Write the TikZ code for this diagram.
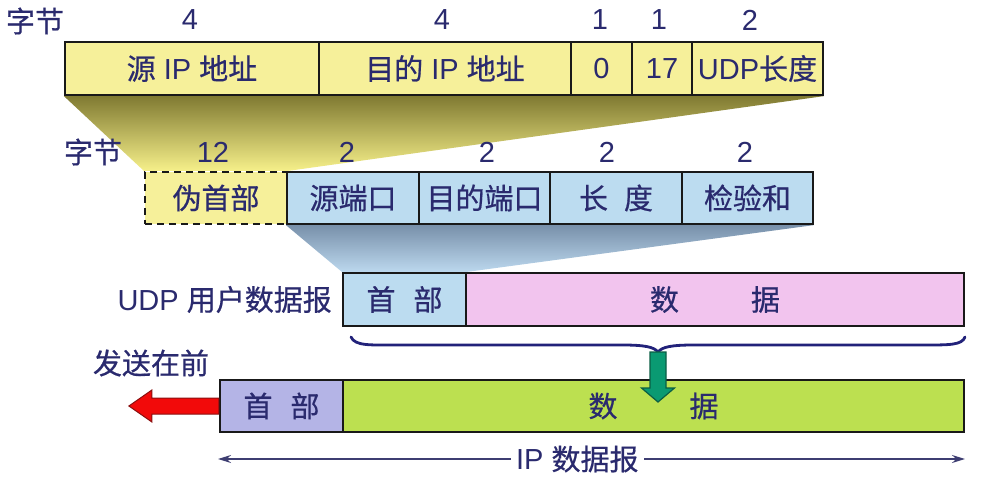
\documentclass[tikz,border=0pt]{standalone}
\usepackage{fontspec}
\setmainfont{Liberation Sans}
\newfontfamily\cjk[FakeBold=0.6]{Noto Sans CJK SC}
\usetikzlibrary{arrows.meta,backgrounds,calc}
\newcommand{\zh}[1]{{\cjk #1}}
\definecolor{txt}{HTML}{2A2A6E}
\definecolor{ylw}{HTML}{F6F09A}
\definecolor{blu}{HTML}{BCDCF0}
\definecolor{pnk}{HTML}{F2C4EE}
\definecolor{lim}{HTML}{BCE050}
\definecolor{lav}{HTML}{B4B4E6}
\definecolor{olive}{HTML}{807A32}
\definecolor{ylwlt}{HTML}{F6F08A}
\definecolor{bluedk}{HTML}{7890AA}
\definecolor{bluelt}{HTML}{BCD8EE}
\definecolor{brc}{HTML}{22227A}
\definecolor{grn}{HTML}{0A9A72}
\definecolor{grndk}{HTML}{0B5E44}
\definecolor{rd}{HTML}{F20A0A}
\definecolor{rddk}{HTML}{8A1010}
\definecolor{dim}{HTML}{3E3E72}
\tikzset{
  fld/.style={draw=black!90, line width=2.2pt, rectangle, inner sep=0pt,
    text=txt, font=\fontsize{29}{34}\selectfont},
  lbl/.style={text=txt, inner sep=0pt, font=\fontsize{29}{34}\selectfont},
}
\begin{document}
\begin{tikzpicture}[x=1pt,y=-1pt]
\useasboundingbox (0,0) rectangle (986,492);
% top row
\node[fld, fill=ylw, minimum width=254pt, minimum height=53pt] (ipsrc) at (192,68.5) {\zh{源} IP \zh{地址}};
\node[fld, fill=ylw, minimum width=252pt, minimum height=53pt] (ipdst) at (445,68.5) {\zh{目的} IP \zh{地址}};
\node[fld, fill=ylw, minimum width=61pt, minimum height=53pt] (zero) at (601.5,68.5) {0};
\node[fld, fill=ylw, minimum width=60pt, minimum height=53pt] (proto) at (662,68.5) {17};
\node[fld, fill=ylw, minimum width=131pt, minimum height=53pt] (udplen) at (757.5,68.5) {UDP\zh{长度}};
\node[lbl] (b1) at (35,21) {\zh{字节}};
\node[lbl] (n1) at (190,20) {4};
\node[lbl] (n2) at (442,20) {4};
\node[lbl] (n3) at (600,20) {1};
\node[lbl] (n4) at (659,20) {1};
\node[lbl] (n5) at (750,20) {2};
% second row
\node[fld, fill=ylw, dashed, dash pattern=on 7pt off 5pt, minimum width=142pt, minimum height=52pt] (pseudo) at (216,198) {\zh{伪首部}};
\node[fld, fill=blu, minimum width=132pt, minimum height=52pt] (srcport) at (353,198) {\zh{源端口}};
\node[fld, fill=blu, minimum width=131pt, minimum height=52pt] (dstport) at (484.5,198) {\zh{目的端口}};
\node[fld, fill=blu, minimum width=132pt, minimum height=52pt] (len) at (616,198) {\zh{长}\hspace{16pt}\zh{度}};
\node[fld, fill=blu, minimum width=131pt, minimum height=52pt] (chk) at (747.5,198) {\zh{检验和}};
\node[lbl] (b2) at (93,152) {\zh{字节}};
\node[lbl] (m1) at (213,152) {12};
\node[lbl] (m2) at (347,152) {2};
\node[lbl] (m3) at (487,152) {2};
\node[lbl] (m4) at (607,152) {2};
\node[lbl] (m5) at (745,152) {2};
% third row
\node[fld, fill=blu, minimum width=123pt, minimum height=53pt] (uhdr) at (404.5,299.5) {\zh{首}\hspace{18pt}\zh{部}};
\node[fld, fill=pnk, minimum width=498pt, minimum height=53pt] (udata) at (715,299.5) {\zh{数}\hspace{72pt}\zh{据}};
\node[lbl, anchor=east] (udplbl) at (332,299.5) {UDP \zh{用户数据报}};
% fourth row
\node[fld, fill=lav, minimum width=123pt, minimum height=52pt] (ihdr) at (281.5,406) {\zh{首}\hspace{18pt}\zh{部}};
\node[fld, fill=lim, minimum width=621pt, minimum height=52pt] (idata) at (653.5,406) {\zh{数}\hspace{72pt}\zh{据}};
\node[lbl] (first) at (151,363) {\zh{发送在前}};
% shadings
\begin{scope}[on background layer]
\shade[top color=olive, bottom color=ylwlt] (ipsrc.south west) -- (udplen.south east) -- (pseudo.north east) -- (pseudo.north west) -- cycle;
\shade[top color=bluedk, bottom color=bluelt] (srcport.south west) -- (chk.south east) -- (uhdr.north east) -- (uhdr.north west) -- cycle;
\end{scope}
% brace
\coordinate (bl) at (351,337);
\coordinate (bt) at (658,352);
\coordinate (br) at (965,337);
\draw[brc, line width=2.8pt, line cap=round] (bl) .. controls (355,346) and (370,345) .. (395,345) -- (622,345) .. controls (645,345) and (654,347) .. (bt) .. controls (662,347) and (671,345) .. (694,345) -- (925,345) .. controls (950,345) and (962,345) .. (br);
% green arrow
\draw[grndk, fill=grn, line width=1.2pt, line join=miter] (bt) ++(-8,0) -- ++(0,36) -- ++(-8.5,0) -- ++(16.5,14) -- ++(16.5,-14) -- ++(-8.5,0) -- ++(0,-36) -- cycle;
% red arrow
\draw[rddk, fill=rd, line width=1pt, line join=miter] (ihdr.west) ++(0,-8) -- ++(-67,0) -- ++(0,-8) -- ++(-23,16) -- ++(23,16) -- ++(0,-8) -- ++(67,0) -- cycle;
% dimension line
\coordinate (dl) at (218,459);
\coordinate (dr) at (965,459);
\draw[dim, line width=1.8pt, {Stealth[length=13pt,width=8pt]}-{Stealth[length=13pt,width=8pt]}] (dl) -- (dr) node[pos=0.481, fill=white, inner xsep=5pt, inner ysep=0pt, text=txt, font=\fontsize{29}{34}\selectfont] (iplbl) {IP \zh{数据报}};
\end{tikzpicture}
\end{document}
